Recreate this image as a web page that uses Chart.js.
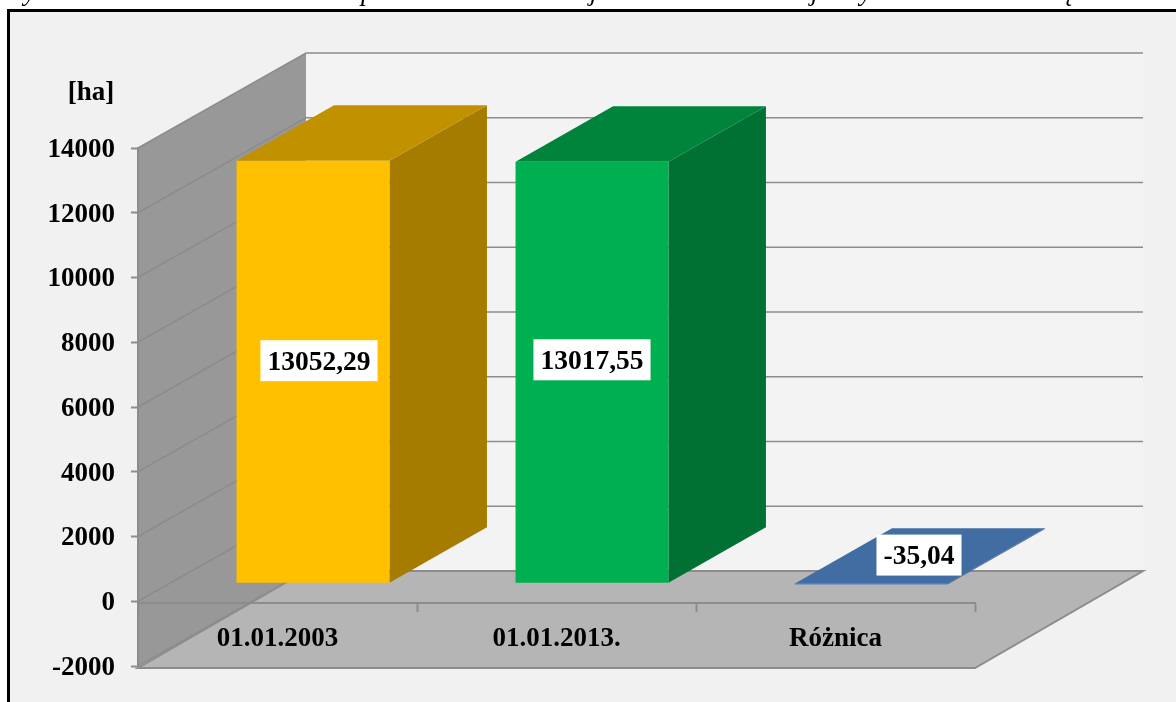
<!DOCTYPE html>
<html>
<head>
<meta charset="utf-8">
<title>Powierzchnia [ha]</title>
<script src="https://cdn.jsdelivr.net/npm/chart.js@4"></script>
<style>
    html, body { margin: 0; padding: 0; background: #fff; overflow: hidden; }
    #frame {
        position: absolute; left: 7px; top: 9px; right: 0; bottom: 0;
        background: #f1f1f1; border-left: 3px solid #000; border-top: 3px solid #000;
    }
    #chart { position: absolute; left: 0; top: 0; }
</style>
</head>
<body>
<div id="frame"></div>
<canvas id="chart" width="1176" height="702"></canvas>
<script>
const categories = ['01.01.2003', '01.01.2013.', 'Różnica'];
const areaValues = [13052.29, 13017.55, -35.04];
const frontColors = ['#FFC000', '#00B050', '#4F81BD'];
const topColors = ['#C19100', '#00843C', '#416DA3'];
const sideColors = ['#A67C00', '#007033', '#365A88'];
const tickValues = [-2000, 0, 2000, 4000, 6000, 8000, 10000, 12000, 14000];

// letters of the cropped caption line, only their descenders are inside the page
const captionLetters = ['y', 'p', 'j', 'j', 'y', 'ę'];
const captionX = [24, 361, 590, 811, 860, 1062];

const FONT_FAMILY = '"Liberation Serif", "Times New Roman", serif';
const WALL_DX = 168;
const WALL_DY = -95;
const BAR_SHIFT_X = 35.5;
const BAR_SHIFT_Y = -18;
const BAR_DEPTH_X = 97.5;
const BAR_DEPTH_Y = -55.5;
const LINE_COLOR = '#8c8c8c';

function fillPoly(ctx, points, fill, stroke) {
    ctx.beginPath();
    points.forEach((p, i) => i ? ctx.lineTo(p[0], p[1]) : ctx.moveTo(p[0], p[1]));
    ctx.closePath();
    ctx.fillStyle = fill;
    ctx.fill();
    if (stroke) {
        ctx.strokeStyle = stroke;
        ctx.lineWidth = 2;
        ctx.stroke();
    }
}

const box3d = {
    id: 'box3d',

    // walls, wall grid lines and floor of the 3d box
    beforeDraw(chart) {
        const ctx = chart.ctx;
        const { left, right } = chart.chartArea;
        const y = chart.scales.y;
        const top = y.getPixelForValue(14000);
        const bottom = y.getPixelForValue(-2000);

        ctx.save();
        ctx.fillStyle = '#f3f3f3';
        ctx.fillRect(left + WALL_DX, top + WALL_DY, right - left, bottom - top);

        fillPoly(ctx, [
            [left, top],
            [left + WALL_DX, top + WALL_DY],
            [left + WALL_DX, bottom + WALL_DY],
            [left, bottom],
        ], '#989898');

        ctx.strokeStyle = LINE_COLOR;
        ctx.lineWidth = 1.5;
        tickValues.forEach((value) => {
            const py = y.getPixelForValue(value);
            ctx.beginPath();
            ctx.moveTo(left, py);
            ctx.lineTo(left + WALL_DX, py + WALL_DY);
            ctx.lineTo(right + WALL_DX, py + WALL_DY);
            ctx.stroke();
        });

        fillPoly(ctx, [
            [left, bottom + 2],
            [right, bottom + 2],
            [right + WALL_DX, bottom + WALL_DY],
            [left + WALL_DX, bottom + WALL_DY],
        ], '#b5b5b5', LINE_COLOR);

        ctx.fillStyle = '#000';
        ctx.textAlign = 'left';
        ctx.textBaseline = 'alphabetic';
        ctx.font = 'italic 27px ' + FONT_FAMILY;
        captionLetters.forEach((letter, i) => ctx.fillText(letter, captionX[i], 0));

        ctx.font = 'bold 27px ' + FONT_FAMILY;
        ctx.textAlign = 'center';
        ctx.textBaseline = 'middle';
        ctx.fillText('[ha]', 91, 93);
        ctx.restore();
    },

    // top and side faces, the front face is the library's own bar
    beforeDatasetsDraw(chart) {
        const ctx = chart.ctx;
        chart.getDatasetMeta(0).data.forEach((bar, i) => {
            const props = bar.getProps(['x', 'y', 'base', 'width']);
            const x0 = props.x - props.width / 2 + BAR_SHIFT_X;
            const x1 = props.x + props.width / 2 + BAR_SHIFT_X;
            const yTop = Math.min(props.y, props.base) + BAR_SHIFT_Y;
            const yBase = Math.max(props.y, props.base) + BAR_SHIFT_Y;

            fillPoly(ctx, [
                [x1, yTop],
                [x1 + BAR_DEPTH_X, yTop + BAR_DEPTH_Y],
                [x1 + BAR_DEPTH_X, yBase + BAR_DEPTH_Y],
                [x1, yBase],
            ], sideColors[i]);
            fillPoly(ctx, [
                [x0, yTop],
                [x0 + BAR_DEPTH_X, yTop + BAR_DEPTH_Y],
                [x1 + BAR_DEPTH_X, yTop + BAR_DEPTH_Y],
                [x1, yTop],
            ], topColors[i]);
        });
    },

    beforeDatasetDraw(chart) {
        chart.ctx.save();
        chart.ctx.translate(BAR_SHIFT_X, BAR_SHIFT_Y);
    },

    afterDatasetDraw(chart) {
        chart.ctx.restore();
    },

    // white value boxes
    afterDatasetsDraw(chart, args, options) {
        const ctx = chart.ctx;
        ctx.save();
        ctx.font = 'bold 27.5px ' + FONT_FAMILY;
        ctx.textAlign = 'center';
        ctx.textBaseline = 'middle';
        chart.getDatasetMeta(0).data.forEach((bar, i) => {
            const props = bar.getProps(['x', 'y', 'base']);
            const text = String(areaValues[i]).replace('.', ',');
            const boxWidth = ctx.measureText(text).width + 14;
            const cx = props.x + BAR_SHIFT_X + options.nudge[i][0];
            const cy = (props.y + props.base) / 2 + BAR_SHIFT_Y + options.nudge[i][1];

            ctx.fillStyle = '#fff';
            ctx.fillRect(cx - boxWidth / 2, cy - 20.5, boxWidth, 41);
            ctx.fillStyle = '#000';
            ctx.fillText(text, cx, cy + 2);
        });
        ctx.restore();
    },
};

new Chart(document.getElementById('chart'), {
    type: 'bar',
    data: {
        labels: categories,
        datasets: [{
            data: areaValues,
            backgroundColor: frontColors,
            borderWidth: 0,
            barPercentage: 0.548,
            categoryPercentage: 1,
            clip: false,
        }],
    },
    options: {
        responsive: false,
        animation: false,
        layout: {
            padding: { left: 0, right: 201, top: 148, bottom: 36 },
        },
        scales: {
            x: {
                // the reference draws this line a hair under its 0 tick
                position: { y: -45 },
                grid: {
                    drawOnChartArea: false,
                    tickLength: 8,
                    tickColor: LINE_COLOR,
                    tickWidth: 2,
                },
                border: { color: LINE_COLOR, width: 2 },
                ticks: {
                    color: '#000',
                    maxRotation: 0,
                    autoSkip: false,
                    padding: 12,
                    font: { family: FONT_FAMILY, size: 27, weight: 'bold' },
                },
            },
            y: {
                min: -2000,
                max: 14000,
                afterFit(scale) {
                    scale.width = 138;
                },
                grid: {
                    drawOnChartArea: false,
                    tickLength: 7,
                    tickColor: LINE_COLOR,
                    tickWidth: 2,
                },
                border: { color: LINE_COLOR, width: 2 },
                afterBuildTicks(scale) {
                    scale.ticks = tickValues.map((value) => ({ value: value }));
                },
                ticks: {
                    color: '#000',
                    padding: 16,
                    labelOffset: 2,
                    callback: (value) => String(value),
                    font: { family: FONT_FAMILY, size: 27, weight: 'bold' },
                },
            },
        },
        plugins: {
            legend: { display: false },
            title: { display: false },
            tooltip: { enabled: false },
            box3d: { nudge: [[6, -11], [0, -12.5], [48, -29]] },
        },
    },
    plugins: [box3d],
});
</script>
</body>
</html>
